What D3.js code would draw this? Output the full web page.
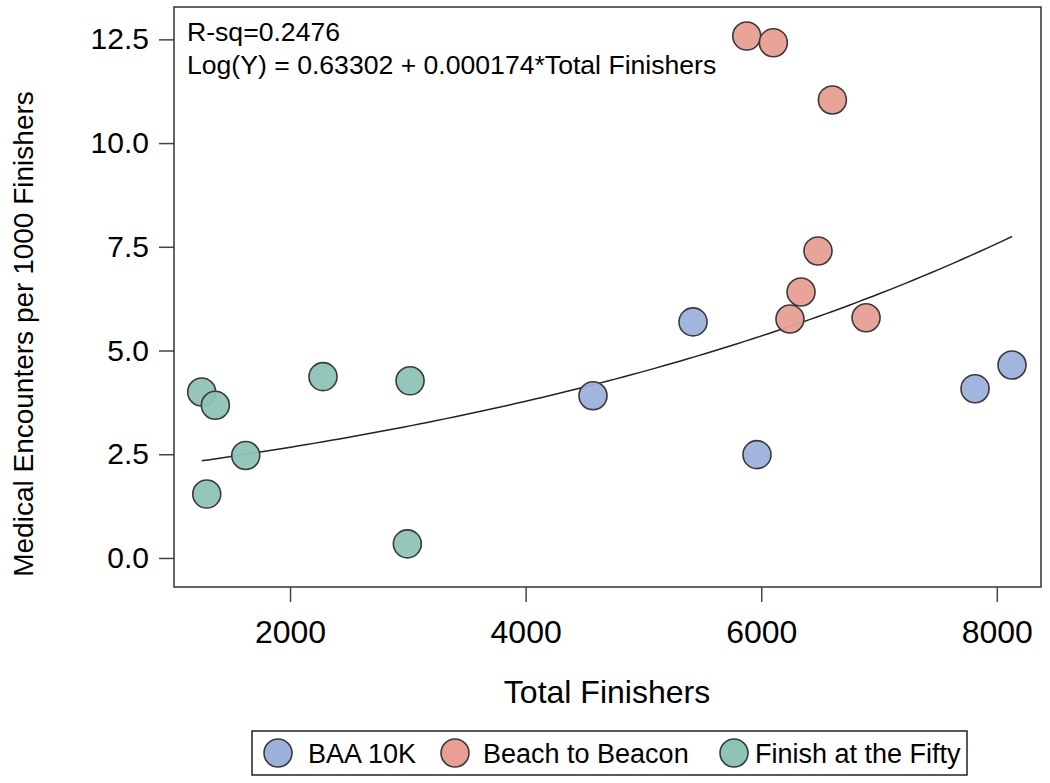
<!DOCTYPE html>
<html>
<head>
<meta charset="utf-8">
<script src="https://cdn.jsdelivr.net/npm/d3@7"></script>
<style>
  body { margin: 0; background: #fff; }
  text { font-family: "Liberation Sans", Arial, sans-serif; fill: #000; }
</style>
</head>
<body>
<svg id="chart" width="1050" height="783"></svg>
<script>
const groups = ["BAA 10K", "Beach to Beacon", "Finish at the Fifty"];
const groupColors = ["#9db1dc", "#e89f93", "#8ec3b8"];

const baaX = [4572, 5421, 5964, 7815, 8129];
const baaY = [3.91, 5.69, 2.49, 4.08, 4.65];
const b2bX = [5877, 6103, 6604, 6482, 6338, 6244, 6890];
const b2bY = [12.58, 12.42, 11.04, 7.40, 6.41, 5.76, 5.79];
const fifX = [1250, 1366, 1624, 1293, 2996, 2280, 3019];
const fifY = [4.00, 3.68, 2.47, 1.54, 0.34, 4.37, 4.27];

const xTicks = [2000, 4000, 6000, 8000];
const yTicks = [0.0, 2.5, 5.0, 7.5, 10.0, 12.5];
const fitIntercept = 0.63302, fitSlope = 0.000174;
const annot = ["R-sq=0.2476", "Log(Y) = 0.63302 + 0.000174*Total Finishers"];

const points = [];
[[baaX, baaY], [b2bX, b2bY], [fifX, fifY]].forEach(([xs, ys], g) => {
  xs.forEach((x, i) => points.push({ x, y: ys[i], g }));
});

const svg = d3.select("#chart");
const L = 174, R = 1041, T = 7, B = 587;
const x = d3.scaleLinear().domain([1015, 8375]).range([L, R]);
const y = d3.scaleLinear().domain([-0.70, 13.28]).range([B, T]);

// axes
const xAxis = svg.append("g").attr("transform", `translate(0,${B})`)
  .call(d3.axisBottom(x).tickValues(xTicks).tickFormat(d3.format("d")).tickSizeOuter(0).tickSize(15).tickPadding(18));
const yAxis = svg.append("g").attr("transform", `translate(${L},0)`)
  .call(d3.axisLeft(y).tickValues(yTicks).tickFormat(d3.format(".1f")).tickSizeOuter(0).tickSize(15).tickPadding(10));
[xAxis, yAxis].forEach(a => {
  a.select(".domain").remove();
  a.selectAll("line").attr("stroke", "#444").attr("stroke-width", 1.5);
  a.selectAll("text").style("font-family", "'Liberation Sans', Arial, sans-serif").attr("fill", "#000");
});
xAxis.selectAll("text").style("font-size", "32px");
yAxis.selectAll("text").style("font-size", "30px");

// frame
svg.append("rect").attr("x", L).attr("y", T).attr("width", R - L).attr("height", B - T)
  .attr("fill", "none").attr("stroke", "#333").attr("stroke-width", 1.5);

// fit curve
const xmin = d3.min(points, d => d.x), xmax = d3.max(points, d => d.x);
const curve = d3.range(0, 101).map(i => {
  const xv = xmin + (xmax - xmin) * i / 100;
  return [xv, Math.exp(fitIntercept + fitSlope * xv)];
});
svg.append("path").datum(curve)
  .attr("d", d3.line().x(d => x(d[0])).y(d => y(d[1])))
  .attr("fill", "none").attr("stroke", "#222").attr("stroke-width", 1.5);

// points
svg.append("g").selectAll("circle").data(points).join("circle")
  .attr("cx", d => x(d.x)).attr("cy", d => y(d.y)).attr("r", 14)
  .attr("fill", d => groupColors[d.g]).attr("fill-opacity", 0.95)
  .attr("stroke", "#3a3a3a").attr("stroke-width", 1.6);

// annotation
svg.append("g").selectAll("text").data(annot).join("text")
  .attr("x", 187).attr("y", (d, i) => 41 + i * 33)
  .style("font-size", "26.6px").text(d => d);

// axis titles
svg.append("text").attr("x", 607).attr("y", 703).attr("text-anchor", "middle")
  .style("font-size", "32px").text("Total Finishers");
svg.append("text").attr("transform", `translate(33,334) rotate(-90)`)
  .attr("text-anchor", "middle").style("font-size", "28px")
  .text("Medical Encounters per 1000 Finishers");

// legend
const lg = svg.append("g");
lg.append("rect").attr("x", 252).attr("y", 731).attr("width", 715).attr("height", 44)
  .attr("fill", "#fff").attr("stroke", "#222").attr("stroke-width", 1.5);
const legCx = [278, 455, 734];
const legTx = [308, 483, 755];
groups.forEach((gname, i) => {
  lg.append("circle").attr("cx", legCx[i]).attr("cy", 753).attr("r", 14)
    .attr("fill", groupColors[i]).attr("stroke", "#3a3a3a").attr("stroke-width", 1.6);
  lg.append("text").attr("x", legTx[i]).attr("y", 763).style("font-size", "27px").text(gname);
});
</script>
</body>
</html>
